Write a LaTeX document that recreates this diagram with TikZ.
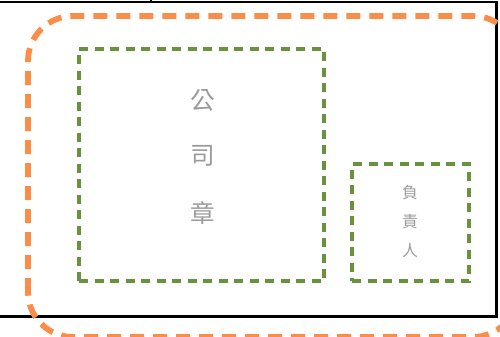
\documentclass[tikz,border=0pt]{standalone}
\usepackage{fontspec}
\newfontfamily\cjk{Noto Sans CJK TC}
\usetikzlibrary{positioning}
\definecolor{stampgreen}{RGB}{104,146,62}
\definecolor{edgeorange}{RGB}{250,142,72}
\definecolor{inkgray}{RGB}{155,155,155}
\tikzstyle{sealbox} = [rectangle, draw=stampgreen, line width=2pt, dash pattern=on 0.18cm off 0.13cm, minimum width=4.9cm, minimum height=4.64cm]
\tikzstyle{signbox} = [rectangle, draw=stampgreen, line width=2pt, dash pattern=on 0.18cm off 0.13cm, minimum width=2.34cm, minimum height=2.34cm]
\tikzstyle{bigchar} = [text=inkgray, inner sep=0pt, font=\cjk\fontsize{14}{14}\selectfont]
\tikzstyle{smallchar} = [text=inkgray, inner sep=0pt, font=\cjk\fontsize{9}{9}\selectfont]
\tikzstyle{outline} = [draw=edgeorange, line width=3.3pt, dash pattern=on 0.28cm off 0.18cm, rounded corners=0.9cm]
\tikzstyle{frame} = [draw=black, line width=1.7pt]

\begin{document}
\begin{tikzpicture}
\useasboundingbox (0,0) rectangle (10,6.72);

% Frame of the page
\coordinate (tl) at (0,6.68);
\coordinate (tr) at (9.92,6.68);
\coordinate (br) at (9.92,0.4);
\coordinate (bl) at (0,0.4);
\coordinate (tick) at (3.02,6.8);
\coordinate (tickfoot) at (3.02,6.68);
\draw [frame] (tl) -- (tr) -- (br) -- (bl);
\draw [frame, line width=0.8pt] (tickfoot) -- (tick);

% Boxes
\node (seal) [sealbox] at (4.03,3.42) {};
\node (sign) [signbox] at (8.21,2.27) {};

% Texts
\node (gong) [bigchar] at (4.06,4.72) {公};
\node (si) [bigchar, below of=gong, node distance=1.12cm] {司};
\node (zhang) [bigchar, below of=si, node distance=1.14cm] {章};
\node (fu) [smallchar] at (8.2,2.86) {負};
\node (ze) [smallchar, below of=fu, node distance=0.58cm] {責};
\node (ren) [smallchar, below of=ze, node distance=0.56cm] {人};

% Outer dashed line
\draw [outline] (0.56,-0.02) rectangle (10.36,6.4);

\end{tikzpicture}
\end{document}
